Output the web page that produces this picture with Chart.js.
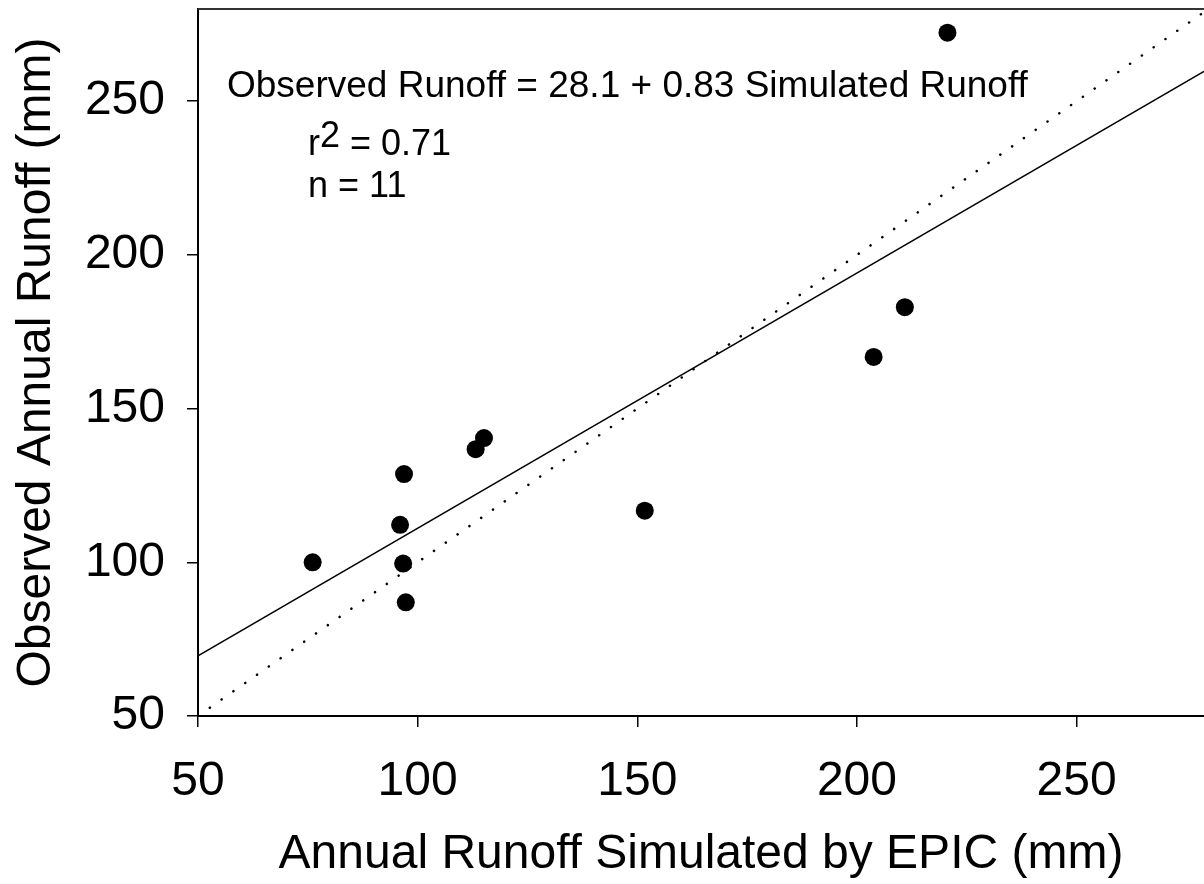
<!DOCTYPE html>
<html>
<head>
<meta charset="utf-8">
<script src="https://cdn.jsdelivr.net/npm/chart.js@4"></script>
<style>
  html, body { margin: 0; padding: 0; background: #fff; overflow: hidden; }
</style>
</head>
<body>
<!-- canvas is a little wider than the page: the point overflow margin Chart.js
     keeps on the right falls outside the visible area, so the plot runs to the edge -->
<canvas id="chart" width="1213" height="884"></canvas>
<script>
// annual runoff, one point per year (mm)
const simulated = [76.1, 96.0, 96.9, 96.7, 97.3, 113.2, 115.1, 151.7, 203.8, 210.9, 220.6]
const observed = [100.0, 112.2, 128.7, 99.6, 87.0, 136.8, 140.4, 116.8, 166.8, 183.0, 272.3]

const xTicks = [50, 100, 150, 200, 250]
const yTicks = [50, 100, 150, 200, 250]
const xMin = 50
const xMax = 279
const yMin = 50
const yMax = 280

// fitted line: observed = intercept + slope * simulated
const intercept = 28.1
const slope = 0.83
const r2 = 0.71

const FONT = '"Liberation Sans", Arial, sans-serif'
Chart.defaults.font.family = FONT
Chart.defaults.color = '#000'

const fitLine = [xMin, xMax].map(x => ({ x, y: intercept + slope * x }))
const oneToOne = [xMin, xMax].map(x => ({ x, y: x }))

const frameTop = {
  id: 'frame-top',
  afterDraw(chart) {
    const { ctx, chartArea } = chart
    ctx.save()
    ctx.strokeStyle = '#333'
    ctx.lineWidth = 2
    ctx.beginPath()
    ctx.moveTo(chartArea.left, chartArea.top)
    ctx.lineTo(chartArea.right, chartArea.top)
    ctx.stroke()
    ctx.restore()
  }
}

const statsText = {
  id: 'stats-text',
  afterDatasetsDraw(chart) {
    const { ctx, chartArea } = chart
    const left = chartArea.left
    const top = chartArea.top
    ctx.save()
    ctx.fillStyle = '#000'
    ctx.textBaseline = 'alphabetic'
    ctx.font = '37px ' + FONT
    ctx.fillText(`Observed Runoff = ${intercept} + ${slope} Simulated Runoff`, left + 29, top + 88)

    ctx.font = '36px ' + FONT
    let x = left + 110
    ctx.fillText('r', x, top + 146)
    x += ctx.measureText('r').width
    ctx.fillText('2', x, top + 138)
    x += ctx.measureText('2').width
    ctx.fillText(` = ${r2}`, x, top + 146)

    ctx.fillText(`n = ${simulated.length}`, left + 110, top + 188)
    ctx.restore()
  }
}

new Chart(document.getElementById('chart'), {
  type: 'scatter',
  data: {
    datasets: [
      {
        data: simulated.map((x, i) => ({ x, y: observed[i] })),
        pointRadius: 9,
        pointBackgroundColor: '#000',
        pointBorderWidth: 0,
        order: 0
      },
      {
        type: 'line',
        data: fitLine,
        borderColor: '#000',
        borderWidth: 1.5,
        pointRadius: 0,
        order: 1
      },
      {
        type: 'line',
        data: oneToOne,
        borderColor: '#000',
        borderWidth: 2.5,
        borderDash: [0.1, 14.3],
        borderCapStyle: 'round',
        pointRadius: 0,
        order: 2
      }
    ]
  },
  options: {
    responsive: false,
    animation: false,
    layout: { padding: { top: 9, left: 0, right: 0, bottom: 0 } },
    scales: {
      x: {
        type: 'linear',
        min: xMin,
        max: xMax,
        afterBuildTicks: s => { s.ticks = xTicks.map(value => ({ value })) },
        afterFit: s => {
          s.height = 168
          s.paddingLeft = 0
          s.paddingRight = 0
        },
        grid: { drawOnChartArea: false, tickLength: 11, color: '#000', lineWidth: 1.5 },
        border: { color: '#000', width: 2 },
        ticks: { font: { size: 48 }, padding: 26, maxRotation: 0 },
        title: {
          display: true,
          text: 'Annual Runoff Simulated by EPIC (mm)',
          font: { size: 48 },
          padding: { top: 0, bottom: 0 }
        }
      },
      y: {
        type: 'linear',
        min: yMin,
        max: yMax,
        afterBuildTicks: s => { s.ticks = yTicks.map(value => ({ value })) },
        afterFit: s => {
          s.width = 198
          s.paddingTop = 0
          s.paddingBottom = 0
        },
        grid: { drawOnChartArea: false, tickLength: 11, color: '#000', lineWidth: 1.5 },
        border: { color: '#000', width: 2 },
        ticks: { font: { size: 48 }, padding: 22 },
        title: {
          display: true,
          text: 'Observed Annual Runoff (mm)',
          font: { size: 48 },
          padding: { top: 8, bottom: 0 }
        }
      }
    },
    plugins: {
      legend: { display: false },
      tooltip: { enabled: false }
    }
  },
  plugins: [frameTop, statsText]
})
</script>
</body>
</html>
